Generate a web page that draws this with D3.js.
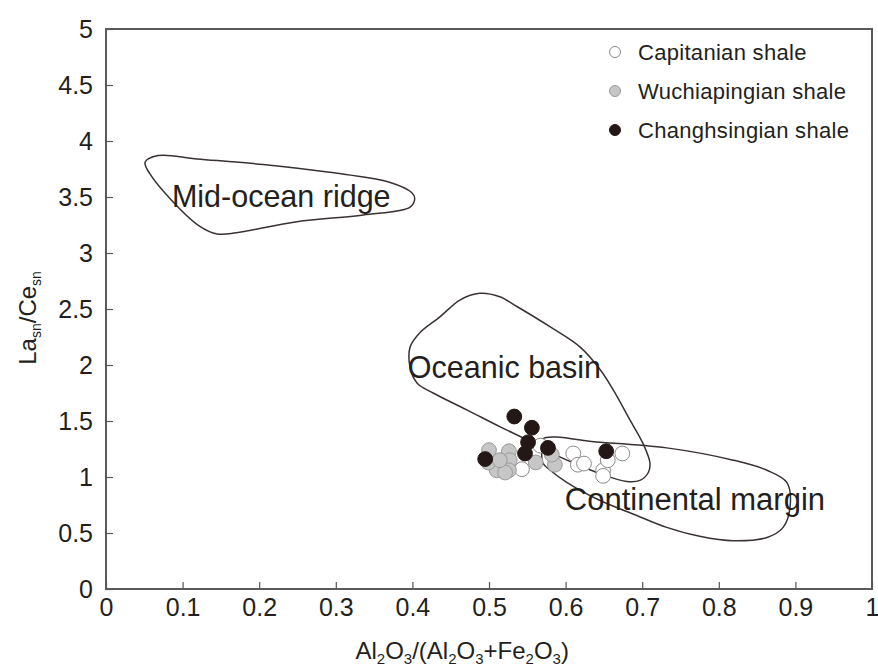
<!DOCTYPE html>
<html>
<head>
<meta charset="utf-8">
<script src="https://cdn.jsdelivr.net/npm/d3@7"></script>
<style>
  body { margin: 0; background: #fff; }
  svg text { font-family: "Liberation Sans", Arial, sans-serif; fill: #231f20; }
</style>
</head>
<body>
<div id="chart"></div>
<script>
// sample points [Al2O3/(Al2O3+Fe2O3), La_sn/Ce_sn]
const capitanian = [
  [0.543, 1.07], [0.567, 1.28], [0.610, 1.21], [0.616, 1.11], [0.624, 1.12],
  [0.649, 1.06], [0.649, 1.01], [0.655, 1.15], [0.674, 1.21]
];
const wuchiapingian = [
  [0.500, 1.24], [0.526, 1.23], [0.527, 1.15], [0.510, 1.06], [0.526, 1.06],
  [0.521, 1.04], [0.499, 1.13], [0.514, 1.15], [0.561, 1.13], [0.586, 1.11],
  [0.582, 1.20]
];
const changhsingian = [
  [0.533, 1.54], [0.556, 1.44], [0.551, 1.31], [0.547, 1.21], [0.577, 1.26],
  [0.653, 1.23], [0.495, 1.16]
];

// tectonic setting fields (outline points)
const midOceanRidge = [
  [0.051, 3.81], [0.068, 3.87], [0.119, 3.84], [0.205, 3.79], [0.292, 3.72],
  [0.371, 3.63], [0.399, 3.54], [0.403, 3.49], [0.397, 3.41], [0.336, 3.34],
  [0.249, 3.28], [0.170, 3.18], [0.145, 3.17], [0.122, 3.24], [0.087, 3.46],
  [0.057, 3.71]
];
const oceanicBasin = [
  [0.488, 2.64], [0.514, 2.61], [0.537, 2.52], [0.580, 2.34], [0.619, 2.16],
  [0.645, 1.96], [0.662, 1.78], [0.684, 1.51], [0.701, 1.30], [0.710, 1.13],
  [0.708, 1.04], [0.697, 0.97], [0.680, 0.96], [0.645, 1.03], [0.612, 1.12],
  [0.580, 1.22], [0.550, 1.33], [0.514, 1.45], [0.471, 1.60], [0.427, 1.75],
  [0.406, 1.84], [0.397, 1.98], [0.397, 2.16], [0.410, 2.29], [0.436, 2.43],
  [0.462, 2.58]
];
const continentalMargin = [
  [0.570, 1.34], [0.645, 1.31], [0.732, 1.26], [0.819, 1.15], [0.863, 1.06],
  [0.889, 0.95], [0.893, 0.73], [0.884, 0.55], [0.863, 0.46], [0.819, 0.43],
  [0.775, 0.47], [0.732, 0.55], [0.688, 0.67], [0.645, 0.79], [0.602, 0.95],
  [0.580, 1.06], [0.570, 1.13], [0.569, 1.24]
];

const xTicks = [0, 0.1, 0.2, 0.3, 0.4, 0.5, 0.6, 0.7, 0.8, 0.9, 1];
const yTicks = [0, 0.5, 1, 1.5, 2, 2.5, 3, 3.5, 4, 4.5, 5];

const width = 878, height = 670;
const margin = {top: 29, right: 6, bottom: 81, left: 106};
const ink = '#231f20';

const svg = d3.select('#chart').append('svg')
  .attr('width', width)
  .attr('height', height);

const x = d3.scaleLinear().domain([0, 1]).range([margin.left, width - margin.right]);
const y = d3.scaleLinear().domain([0, 5]).range([height - margin.bottom, margin.top]);

// axes, ticks pointing inward
svg.append('g')
  .attr('transform', 'translate(0,' + (height - margin.bottom) + ')')
  .call(d3.axisBottom(x).tickValues(xTicks).tickFormat(d => String(d)).tickSize(-7).tickPadding(9))
  .call(g => g.select('.domain').remove())
  .call(g => g.selectAll('line').attr('stroke', '#555').attr('stroke-width', 1.2))
  .call(g => g.selectAll('text').style('font-size', '25px').attr('fill', ink));

svg.append('g')
  .attr('transform', 'translate(' + margin.left + ',0)')
  .call(d3.axisLeft(y).tickValues(yTicks).tickFormat(d => String(d)).tickSize(-7).tickPadding(13))
  .call(g => g.select('.domain').remove())
  .call(g => g.selectAll('line').attr('stroke', '#555').attr('stroke-width', 1.2))
  .call(g => g.selectAll('text').style('font-size', '25px').attr('fill', ink));

svg.append('rect')
  .attr('x', x(0))
  .attr('y', y(5))
  .attr('width', x(1) - x(0))
  .attr('height', y(0) - y(5))
  .attr('fill', 'none')
  .attr('stroke', '#5a5a5a')
  .attr('stroke-width', 2);

// field outlines
const outline = d3.line()
  .x(d => x(d[0]))
  .y(d => y(d[1]))
  .curve(d3.curveCatmullRomClosed.alpha(0.5));

svg.selectAll('path.field')
  .data([midOceanRidge, oceanicBasin, continentalMargin])
  .enter()
  .append('path')
  .attr('class', 'field')
  .attr('d', outline)
  .attr('fill', 'none')
  .attr('stroke', '#3a3232')
  .attr('stroke-width', 1.5);

svg.append('text').text('Mid-ocean ridge')
  .attr('x', x(0.086)).attr('y', y(3.41)).style('font-size', '30.5px');
svg.append('text').text('Oceanic basin')
  .attr('x', x(0.394)).attr('y', y(1.88)).style('font-size', '30.5px');
svg.append('text').text('Continental margin')
  .attr('x', x(0.599)).attr('y', y(0.705)).style('font-size', '31px');

// sample points
const series = [
  {name: 'Capitanian shale', data: capitanian, fill: '#ffffff', stroke: '#8a8a8a'},
  {name: 'Wuchiapingian shale', data: wuchiapingian, fill: '#c6c6c6', stroke: '#9a9a9a'},
  {name: 'Changhsingian shale', data: changhsingian, fill: '#231815', stroke: '#231815'}
];

series.forEach(s => {
  svg.append('g')
    .selectAll('circle')
    .data(s.data)
    .enter()
    .append('circle')
    .attr('cx', d => x(d[0]))
    .attr('cy', d => y(d[1]))
    .attr('r', 7.4)
    .attr('fill', s.fill)
    .attr('stroke', s.stroke)
    .attr('stroke-width', 1);
});

// legend
const legend = svg.append('g').attr('transform', 'translate(615,52)');
const item = legend.selectAll('g')
  .data(series)
  .enter()
  .append('g')
  .attr('transform', (d, i) => 'translate(0,' + (i * 39) + ')');

item.append('circle')
  .attr('r', 5.5)
  .attr('fill', d => d.fill)
  .attr('stroke', d => d.stroke)
  .attr('stroke-width', 1);

item.append('text')
  .text(d => d.name)
  .attr('x', 23)
  .attr('dy', '0.36em')
  .style('font-size', '22px')
  .style('letter-spacing', '0.3px');

// axis titles with subscripts
function addSubText(textSel, parts, shift, subSize) {
  let low = false;
  parts.forEach(p => {
    const t = textSel.append('tspan').text(p[0]);
    if (p[1]) {
      t.style('font-size', subSize);
      if (!low) t.attr('dy', shift);
      low = true;
    } else {
      if (low) t.attr('dy', -shift);
      low = false;
    }
  });
}

const xTitle = svg.append('text')
  .attr('x', x(0.465))
  .attr('y', 659)
  .attr('text-anchor', 'middle')
  .style('font-size', '24px');
addSubText(xTitle, [['Al'], ['2', 1], ['O'], ['3', 1], ['/(Al'], ['2', 1], ['O'], ['3', 1],
  ['+Fe'], ['2', 1], ['O'], ['3', 1], [')']], 5, '15px');

const yTitle = svg.append('text')
  .attr('transform', 'translate(36,' + y(2.42) + ') rotate(-90)')
  .attr('text-anchor', 'middle')
  .style('font-size', '24px');
addSubText(yTitle, [['La'], ['sn', 1], ['/Ce'], ['sn', 1]], 5, '14px');
</script>
</body>
</html>
